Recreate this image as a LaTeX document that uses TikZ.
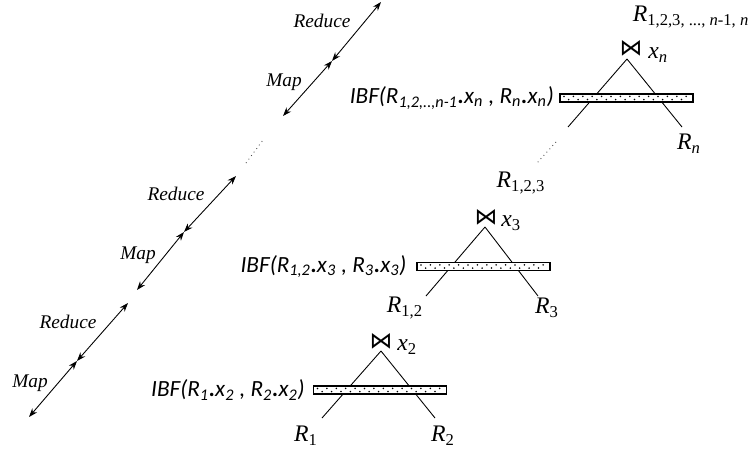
\documentclass[tikz,border=0pt]{standalone}
\usepackage{fontspec}
\setmainfont{Liberation Serif}
\newfontfamily\serifface{Liberation Serif}
\newfontfamily\ibffont{Carlito}
\newfontfamily\symface{DejaVu Sans}
\usetikzlibrary{arrows.meta,calc,positioning}

\tikzset{
  mr/.style={{Stealth[length=5pt,width=3.6pt]}-{Stealth[length=5pt,width=3.6pt]}, line width=0.5pt},
  phase/.style={font=\serifface\fontsize{11}{13}\selectfont\itshape},
  rel/.style={font=\serifface\fontsize{13.5}{15}\selectfont, inner sep=0pt},
  ibf/.style={font=\ibffont\fontsize{13.2}{16}\selectfont\itshape, inner sep=0pt},
  ibfbox/.style={draw, fill=white, line width=0.6pt, minimum width=2.66cm, minimum height=0.16cm, inner sep=0pt},
  branch/.style={line width=0.5pt},
  gap/.style={dotted, black!70, line width=0.5pt},
  joinop/.style={font=\symface\fontsize{13}{14}\selectfont, inner sep=0pt},
}

\begin{document}
\begin{tikzpicture}[x=0.02cm,y=-0.02cm]
  \useasboundingbox (0,0) rectangle (751,450);

  % Map / Reduce chain
  \coordinate (low1) at (29,417);
  \coordinate (mid1) at (77,361);
  \coordinate (up1) at (128,303);
  \coordinate (low2) at (137,290);
  \coordinate (mid2) at (184,232);
  \coordinate (up2) at (236,176);
  \coordinate (dotA) at (246,163);
  \coordinate (dotB) at (263,140);
  \coordinate (low3) at (283,116);
  \coordinate (mid3) at (332,61);
  \coordinate (up3) at (381,2);
  \draw[mr] (low1) -- (mid1);
  \draw[mr] (mid1) -- (up1);
  \draw[mr] (low2) -- (mid2);
  \draw[mr] (mid2) -- (up2);
  \draw[gap] (dotA) -- (dotB);
  \draw[mr] (low3) -- (mid3);
  \draw[mr] (mid3) -- (up3);
  \node[phase] (map1) at (30,383) {Map};
  \node[phase] (red1) at (68,322) {Reduce};
  \node[phase] (map2) at (138,255) {Map};
  \node[phase] (red2) at (176,194) {Reduce};
  \node[phase] (map3) at (284,82) {Map};
  \node[phase] (red3) at (322,21) {Reduce};

  % First join
  \coordinate (top1) at (381,351);
  \coordinate (left1) at ($(top1)+(-59,67)$);
  \coordinate (right1) at ($(top1)+(54,67)$);
  \draw[branch] (top1) -- (left1);
  \draw[branch] (top1) -- (right1);
  \node[ibfbox] (b1) at (380,390) {};
  \foreach \i in {0,...,13} \fill ($(b1.west)+(4.5+9.4*\i,-1.6)$) circle[radius=0.5pt];
  \foreach \i in {0,...,12} \fill ($(b1.west)+(9.2+9.4*\i,1.6)$) circle[radius=0.5pt];
  \node[joinop] (j1) at ($(top1)+(0,-10)$) {⋈};
  \node[rel, anchor=west] (x1) at ($(top1)+(16,-4)$) {\textit{x}\textsubscript{2}};
  \node[ibf, left=4.5pt of b1] (f1) {IBF(R\textsubscript{1}{\bfseries .}x\textsubscript{2} , R\textsubscript{2}{\bfseries .}x\textsubscript{2})};
  \node[rel] (r1) at (306,436) {\textit{R}\textsubscript{1}};
  \node[rel] (r2) at (443,436) {\textit{R}\textsubscript{2}};

  % Second join
  \coordinate (top2) at (485,227);
  \coordinate (left2) at ($(top2)+(-59,69)$);
  \coordinate (right2) at ($(top2)+(53,69)$);
  \draw[branch] (top2) -- (left2);
  \draw[branch] (top2) -- (right2);
  \node[ibfbox] (b2) at (483.5,266.5) {};
  \foreach \i in {0,...,13} \fill ($(b2.west)+(4.5+9.4*\i,-1.6)$) circle[radius=0.5pt];
  \foreach \i in {0,...,12} \fill ($(b2.west)+(9.2+9.4*\i,1.6)$) circle[radius=0.5pt];
  \node[joinop] (j2) at ($(top2)+(1,-10)$) {⋈};
  \node[rel, anchor=west] (x2) at ($(top2)+(16,-4)$) {\textit{x}\textsubscript{3}};
  \node[ibf, left=5.5pt of b2] (f2) {IBF(R\textsubscript{1,2}{\bfseries .}x\textsubscript{3} , R\textsubscript{3}{\bfseries .}x\textsubscript{3})};
  \node[rel] (r12) at (405,308) {\textit{R}\textsubscript{1,2}};
  \node[rel] (r3) at (547,308) {\textit{R}\textsubscript{3}};

  % Last join
  \coordinate (top3) at (627,59);
  \coordinate (left3) at ($(top3)+(-59,68)$);
  \coordinate (right3) at ($(top3)+(55,68)$);
  \coordinate (gapA) at (556,142);
  \coordinate (gapB) at (537,163);
  \draw[branch] (top3) -- (left3);
  \draw[branch] (top3) -- (right3);
  \draw[gap] (gapA) -- (gapB);
  \node[ibfbox] (b3) at (626.5,98) {};
  \foreach \i in {0,...,13} \fill ($(b3.west)+(4.5+9.4*\i,-1.6)$) circle[radius=0.5pt];
  \foreach \i in {0,...,12} \fill ($(b3.west)+(9.2+9.4*\i,1.6)$) circle[radius=0.5pt];
  \node[joinop] (j3) at ($(top3)+(4,-11)$) {⋈};
  \node[rel, anchor=west] (x3) at ($(top3)+(21,-4)$) {\textit{x}\textsubscript{\textit{n}}};
  \node[ibf, left=3pt of b3] (f3) {IBF(R\textsubscript{1,2,..,n-1}{\bfseries .}x\textsubscript{n} , R\textsubscript{n}{\bfseries .}x\textsubscript{n})};
  \node[rel] (r123) at (521,183) {\textit{R}\textsubscript{1,2,3}};
  \node[rel] (rn) at (689,144) {\textit{R}\textsubscript{\textit{n}}};
  \node[rel] (rall) at (691,17) {\textit{R}\textsubscript{1,2,3, ..., \textit{n}-1, \textit{n}}};
\end{tikzpicture}
\end{document}
